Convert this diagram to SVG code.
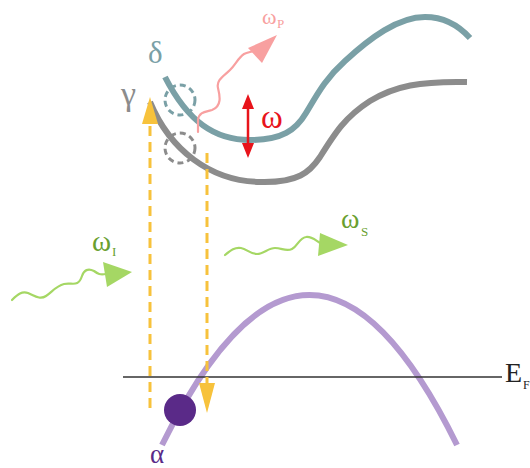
<svg xmlns="http://www.w3.org/2000/svg" width="530" height="468" viewBox="0 0 530 468">
<style>
.lbl{font-family:"Liberation Serif","DejaVu Serif",serif;}
.band{fill:none;stroke-width:6;stroke-linecap:butt;}
.yd{fill:none;stroke:#f7c23c;stroke-width:3;stroke-dasharray:10,6;}
.wave{fill:none;stroke-width:2.2;stroke-linecap:round;}
</style>
<rect width="530" height="468" fill="#fff"/>
<g id="bands">
<g id="delta-band"><path class="band" stroke="#7aa0a6" d="M165,77 C188,122 215,140 250,140 C282,140 296,130 306,113 C318,93 326,78 345,61 C370,38 398,17 425,17 C445,17 460,27 470,38"/></g>
<g id="gamma-band"><path class="band" stroke="#8c8c8c" d="M150,102 C170,150 210,181 260,182 C298,183 310,172 320,157 C335,133 345,117 370,101 C395,86 420,81 467,82"/></g>
<g id="alpha-band"><path class="band" stroke="#b49ad0" d="M162,445 Q309.5,145 457,445"/></g>
</g>
<g id="fermi"><line x1="123" y1="377" x2="502" y2="377" stroke="#333" stroke-width="1.4"/></g>
<g id="circles">
<circle cx="180" cy="100" r="15" fill="none" stroke="#7aa0a6" stroke-width="3" stroke-dasharray="6,4"/>
<circle cx="180" cy="148" r="15" fill="none" stroke="#8c8c8c" stroke-width="3" stroke-dasharray="6,4"/>
</g>
<g id="connectors">
<line class="yd" x1="150" y1="408" x2="150" y2="122"/>
<polygon points="150,97 142,124 158,124" fill="#f7c23c"/>
<line class="yd" x1="207" y1="153" x2="207" y2="388"/>
<polygon points="207,413 199,383 215,383" fill="#f7c23c"/>
<line x1="248" y1="105" x2="248" y2="147" stroke="#e8141b" stroke-width="2.5"/>
<polygon points="248,94 242,109 254,109" fill="#e8141b"/>
<polygon points="248,158 242,143 254,143" fill="#e8141b"/>
<path class="wave" stroke="#f8a0a0" d="M198,132 L198,120 C199,112 205,112 212,110 C222,106 220,96 218,88 C216,80 224,76 230,70 C236,64 238,58 244,54 C248,52 252,52 256,50"/>
<polygon points="277,35 248,48 262,63" fill="#f8a0a0"/>
<path class="wave" stroke="#a5d764" d="M12,300 C18,294 22,291 28,293 C35,296 40,300 46,296 C52,292 56,286 64,284 C72,282 78,288 82,276 C84,270 88,268 94,271 C98,274 100,275 106,274"/>
<polygon points="132,272 103,262 107,287" fill="#a5d764"/>
<path class="wave" stroke="#a5d764" d="M225,255 C231,250 235,247 241,248 C247,249 250,254 257,254 C264,254 268,248 275,248 C282,248 286,252 292,249 C298,246 299,238 306,237 C312,236 316,241 322,244"/>
<polygon points="348,245 320,233 318,256" fill="#a5d764"/>
</g>
<g id="particle"><circle cx="180" cy="410" r="16" fill="#5a2a88"/></g>
<g id="labels" class="lbl">
<text x="148" y="63" font-size="31" fill="#7aa0a6">δ</text>
<text x="121" y="105" font-size="34" fill="#8c8c8c">γ</text>
<text x="261" y="128" font-size="33" fill="#e8141b">ω</text>
<text x="262" y="24" font-size="22" fill="#f8a0a0">ω</text>
<text x="277" y="28" font-size="13" fill="#f8a0a0">P</text>
<text x="92" y="251" font-size="29" fill="#6a9f2f">ω</text>
<text x="112" y="256" font-size="13" fill="#6a9f2f">I</text>
<text x="341" y="228" font-size="28" fill="#6a9f2f">ω</text>
<text x="361" y="236" font-size="13" fill="#6a9f2f">S</text>
<text x="505" y="382" font-size="28" fill="#222">E</text>
<text x="523" y="389" font-size="12" fill="#222">F</text>
<text x="150" y="463" font-size="27" fill="#5a2a88">α</text>
</g>
</svg>
